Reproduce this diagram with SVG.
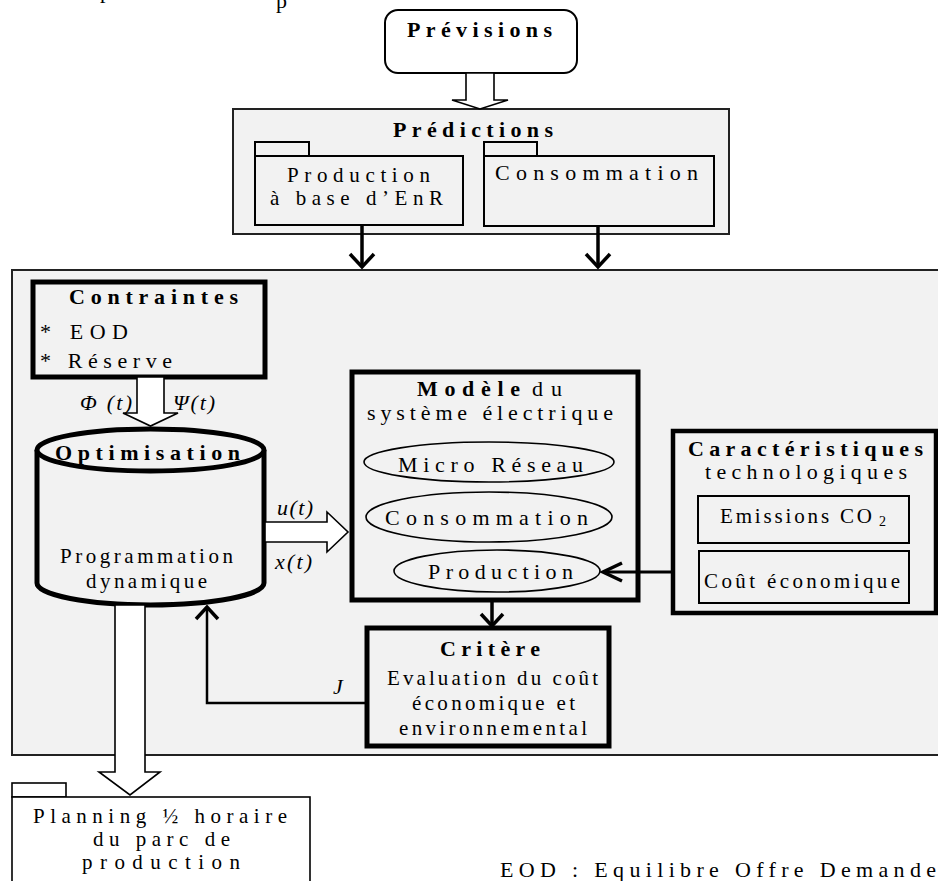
<svg xmlns="http://www.w3.org/2000/svg" width="938" height="881" viewBox="0 0 938 881">
<style>
text{font-family:"Liberation Serif","Times New Roman",serif;font-size:22px;fill:#000}
.b{font-weight:bold}
.i{font-style:italic}
.s{font-size:21px}
.panel{fill:#f2f2f2;stroke:#222;stroke-width:2}
.thick{fill:#f2f2f2;stroke:#000;stroke-width:5}
.thin{fill:#f2f2f2;stroke:#000;stroke-width:2}
.hollow{fill:#fff;stroke:#000;stroke-width:1.6;stroke-linejoin:miter}
.ell{fill:none;stroke:#000;stroke-width:1.6}
.line{fill:none;stroke:#000;stroke-width:3.5}
.head{fill:none;stroke:#000;stroke-width:3.5;stroke-linejoin:miter}
</style>
<rect width="938" height="881" fill="#fff"/>
<text x="100" y="-2">p</text>
<text x="276" y="8">p</text>

<g id="previsions">
<rect x="385" y="10" width="192" height="63" rx="13" fill="#fff" stroke="#000" stroke-width="2"/>
<text class="b" x="407" y="37" textLength="145" lengthAdjust="spacing">Prévisions</text>
</g>

<g id="predictions">
<rect class="panel" x="233" y="109" width="496" height="125"/>
<text class="b" x="393" y="137" textLength="160" lengthAdjust="spacing">Prédictions</text>
<g id="pred-production">
<rect class="thin" x="255" y="142" width="54" height="14"/>
<rect class="thin" x="255" y="156" width="208" height="69"/>
<text class="s" x="287" y="182" textLength="143" lengthAdjust="spacing">Production</text>
<text class="s" x="270" y="205" textLength="173" lengthAdjust="spacing">à base d’EnR</text>
</g>
<g id="pred-consommation">
<rect class="thin" x="484" y="142" width="53" height="14"/>
<rect class="thin" x="484" y="156" width="230" height="70"/>
<text x="495" y="180" textLength="203" lengthAdjust="spacing">Consommation</text>
</g>
</g>

<g id="systeme">
<rect class="panel" x="12" y="270" width="930" height="485"/>
</g>

<g id="contraintes">
<rect class="thick" x="33" y="282" width="232" height="95"/>
<text class="b" x="69" y="304" textLength="169" lengthAdjust="spacing">Contraintes</text>
<text x="40" y="339" textLength="88" lengthAdjust="spacing">* EOD</text>
<text x="40" y="368" textLength="132" lengthAdjust="spacing">* Réserve</text>
</g>

<g id="optimisation">
<path class="thick" d="M37,450 L37,583 A113.5,22 0 0 0 264,583 L264,450"/>
<ellipse class="thick" cx="150.5" cy="450" rx="113.5" ry="21"/>
<text class="b" x="55" y="460" textLength="185" lengthAdjust="spacing">Optimisation</text>
<text class="s" x="60" y="563" textLength="173" lengthAdjust="spacing">Programmation</text>
<text class="s" x="86" y="588" textLength="121" lengthAdjust="spacing">dynamique</text>
</g>

<g id="modele">
<rect class="thick" x="352" y="372" width="286" height="228"/>
<text class="b" x="417" y="396" textLength="103" lengthAdjust="spacing">Modèle</text>
<text x="532" y="396" textLength="30" lengthAdjust="spacing">du</text>
<text x="367" y="420" textLength="246" lengthAdjust="spacing">système électrique</text>
<g id="micro-reseau">
<ellipse class="ell" cx="489" cy="462" rx="125" ry="20"/>
<text x="398" y="472" textLength="185" lengthAdjust="spacing">Micro Réseau</text>
</g>
<g id="modele-consommation">
<ellipse class="ell" cx="489" cy="517" rx="123" ry="25"/>
<text x="385" y="525" textLength="203" lengthAdjust="spacing">Consommation</text>
</g>
<g id="modele-production">
<ellipse class="ell" cx="497" cy="571" rx="103" ry="21"/>
<text x="428" y="579" textLength="145" lengthAdjust="spacing">Production</text>
</g>
</g>

<g id="caracteristiques">
<rect class="thick" x="673" y="431" width="263" height="182" style="stroke-width:4.5"/>
<text class="b" x="688" y="456" textLength="235" lengthAdjust="spacing">Caractéristiques</text>
<text x="705" y="479" textLength="202" lengthAdjust="spacing">technologiques</text>
<g id="emissions">
<rect class="thin" x="698" y="496" width="211" height="47"/>
<text x="720" y="523" textLength="152" lengthAdjust="spacing" style="font-size:21px">Emissions CO</text>
<text x="879" y="526" style="font-size:14px">2</text>
</g>
<g id="cout">
<rect class="thin" x="699" y="551" width="210" height="52"/>
<text x="704" y="588" textLength="196" lengthAdjust="spacing" style="font-size:21px">Coût économique</text>
</g>
</g>

<g id="critere">
<rect class="thick" x="367" y="628" width="242" height="118"/>
<text class="b" x="440" y="656" textLength="100" lengthAdjust="spacing">Critère</text>
<text class="s" x="387" y="685" textLength="211" lengthAdjust="spacing">Evaluation du coût</text>
<text class="s" x="412" y="710" textLength="163" lengthAdjust="spacing">économique et</text>
<text class="s" x="399" y="735" textLength="188" lengthAdjust="spacing">environnemental</text>
</g>

<g id="planning">
<rect x="12" y="783" width="54" height="14" fill="#fff" stroke="#000" stroke-width="1.6"/>
<rect x="12" y="797" width="298" height="100" fill="#fff" stroke="#000" stroke-width="1.6"/>
<text class="s" x="33" y="823" textLength="254" lengthAdjust="spacing">Planning ½ horaire</text>
<text class="s" x="93" y="846" textLength="137" lengthAdjust="spacing">du parc de</text>
<text class="s" x="82" y="869" textLength="158" lengthAdjust="spacing">production</text>
</g>

<g id="legende">
<text x="500" y="877" textLength="436" lengthAdjust="spacing">EOD : Equilibre Offre Demande</text>
</g>

<g id="connecteurs">
<polygon class="hollow" points="466,73 494,73 494,100 508,100 480,109 452,100 466,100"/>
<line class="line" x1="362" y1="226" x2="362" y2="267"/>
<polyline class="head" points="350,254 362,267 374,254"/>
<line class="line" x1="598" y1="227" x2="598" y2="267"/>
<polyline class="head" points="586,254 598,267 610,254"/>
<polygon class="hollow" points="137,377 164,377 164,413 178,413 150.5,426 123,413 137,413"/>
<text class="i" x="80" y="410" textLength="52" lengthAdjust="spacing">Φ (t)</text>
<text class="i" x="173" y="410" textLength="42" lengthAdjust="spacing">Ψ(t)</text>
<polygon class="hollow" points="265,522 327,522 327,512 348,532 327,552 327,542 265,542"/>
<text class="i" x="277" y="515" textLength="36" lengthAdjust="spacing">u(t)</text>
<text class="i" x="275" y="569" textLength="37" lengthAdjust="spacing">x(t)</text>
<line class="line" x1="492" y1="600" x2="492" y2="626"/>
<polyline class="head" points="481,614 492,626 503,614"/>
<line class="line" x1="673" y1="572" x2="603" y2="572" style="stroke-width:3"/>
<polyline class="head" points="622,563 603,572 622,581"/>
<polyline class="line" points="367,703 207,703 207,608" style="stroke-width:2.5"/>
<polyline class="head" points="196,619 207,607 218,619"/>
<text class="i" x="333" y="694">J</text>
<polygon class="hollow" points="115,605 145,605 145,772 160,772 130,795 99,772 115,772"/>
</g>
</svg>
